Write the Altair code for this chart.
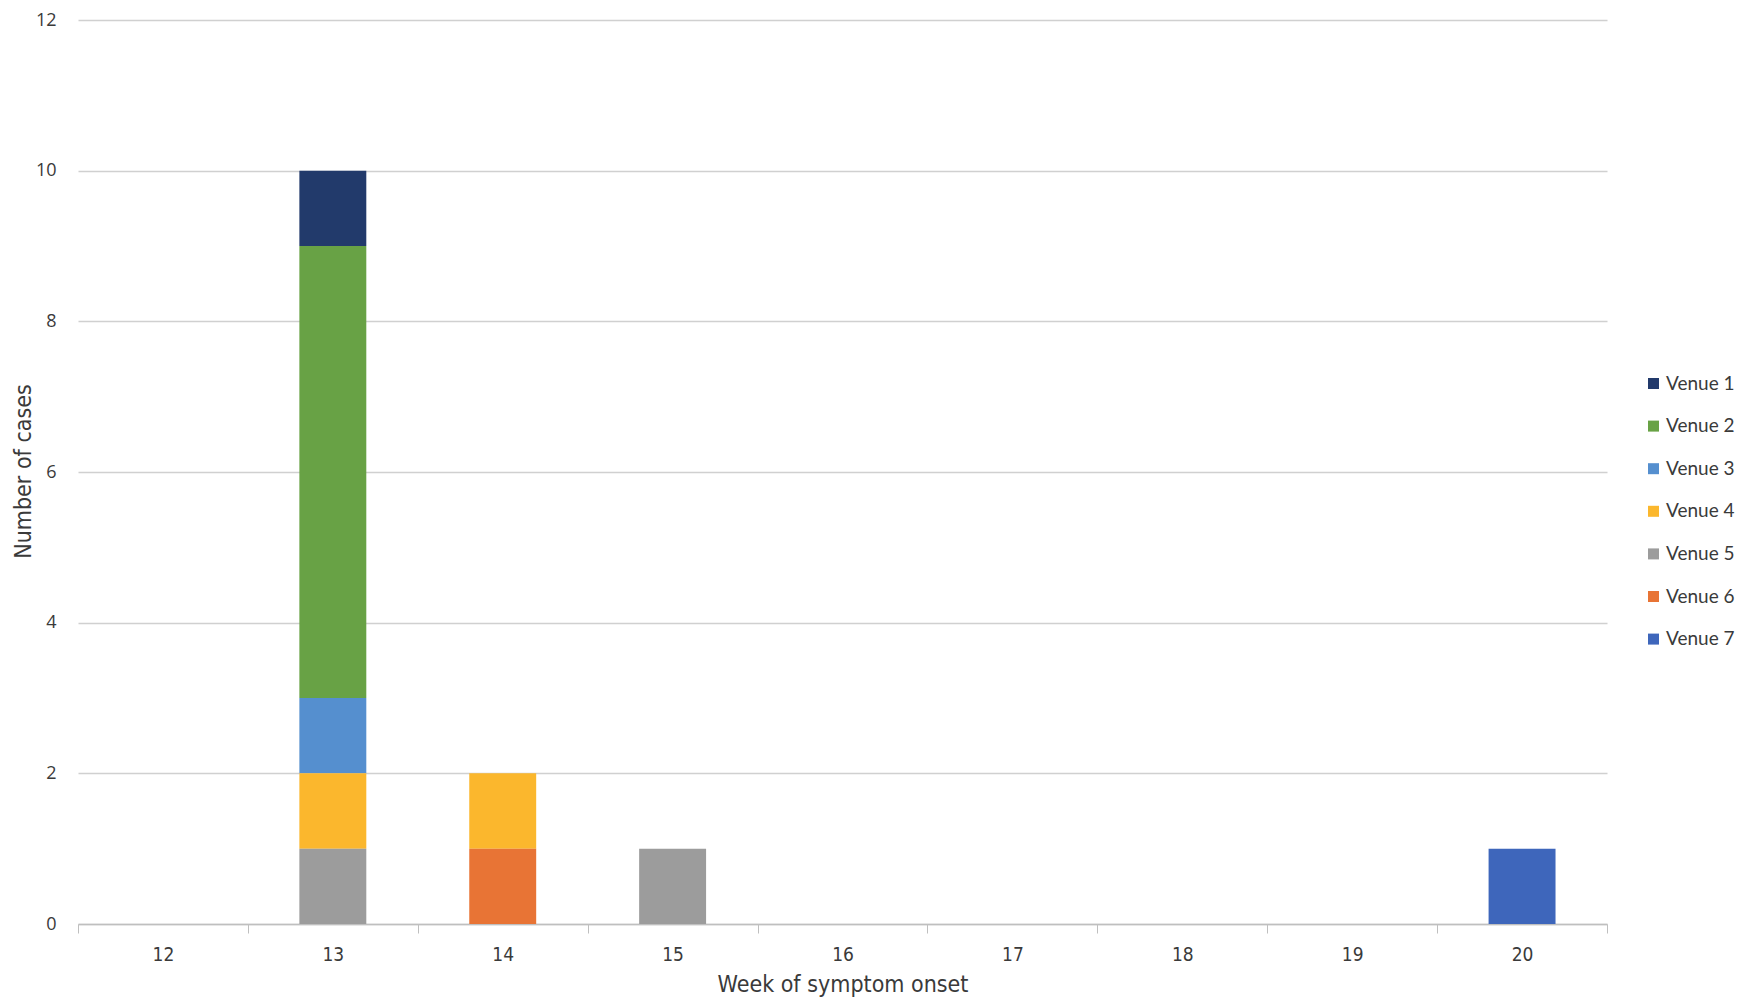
import altair as alt
import pandas as pd

weeks = [12, 13, 14, 15, 16, 17, 18, 19, 20]
venues = ["Venue 1", "Venue 2", "Venue 3", "Venue 4", "Venue 5", "Venue 6", "Venue 7"]
venue_colors = ["#223a6b", "#68a245", "#558fcf", "#fbb72d", "#9c9c9c", "#e87435", "#3e66bb"]

venue1 = [0, 1, 0, 0, 0, 0, 0, 0, 0]
venue2 = [0, 6, 0, 0, 0, 0, 0, 0, 0]
venue3 = [0, 1, 0, 0, 0, 0, 0, 0, 0]
venue4 = [0, 1, 1, 0, 0, 0, 0, 0, 0]
venue5 = [0, 1, 0, 1, 0, 0, 0, 0, 0]
venue6 = [0, 0, 1, 0, 0, 0, 0, 0, 0]
venue7 = [0, 0, 0, 0, 0, 0, 0, 0, 1]

series = [venue1, venue2, venue3, venue4, venue5, venue6, venue7]
rows = []
for vi, (name, vals) in enumerate(zip(venues, series)):
    for w, c in zip(weeks, vals):
        if c > 0:
            rows.append({"week": str(w), "venue": name, "cases": c, "rank": vi})
df = pd.DataFrame(rows)

NARROW = "DejaVu Sans Condensed, Lato, sans-serif"
WIDE = "Open Sans"
LEG = "Lato"
TXT = "#3a3a3a"

chart = alt.Chart(df).mark_bar(width=alt.RelativeBandSize(0.394)).encode(
    x=alt.X(
        "week:N",
        scale=alt.Scale(domain=[str(w) for w in weeks], paddingInner=0, paddingOuter=0),
        sort=[str(w) for w in weeks],
        axis=alt.Axis(
            title="Week of symptom onset",
            labelAngle=0,
            tickBand="extent",
            ticks=True,
            tickSize=9,
            tickColor="#bfbfbf",
            domainColor="#bfbfbf",
            domainWidth=1.5,
            grid=False,
            labelFont=NARROW,
            labelFontSize=19,
            labelColor=TXT,
            labelPadding=12,
            titleFont=NARROW,
            titleFontSize=23,
            titleFontWeight="normal",
            titleColor=TXT,
            titleBaseline="middle",
            titleY=60,
        ),
    ),
    y=alt.Y(
        "cases:Q",
        stack="zero",
        scale=alt.Scale(domain=[0, 12], nice=False),
        axis=alt.Axis(
            title="Number of cases",
            values=[0, 2, 4, 6, 8, 10, 12],
            ticks=False,
            domain=False,
            grid=True,
            gridColor="#d0d0d0",
            gridWidth=1.5,
            labelFont=WIDE,
            labelFontSize=18,
            labelColor=TXT,
            labelPadding=22,
            titleFont=NARROW,
            titleFontSize=23,
            titleFontWeight="normal",
            titleColor=TXT,
            titleBaseline="middle",
            titleAngle=270,
            titleX=-55,
            titleY=451,
        ),
    ),
    color=alt.Color(
        "venue:N",
        scale=alt.Scale(domain=venues, range=venue_colors),
        legend=alt.Legend(
            title=None,
            orient="none",
            legendX=1566,
            legendY=354,
            symbolType="square",
            symbolSize=121,
            symbolStrokeWidth=0,
            labelFont=LEG,
            labelFontSize=19,
            labelColor=TXT,
            labelOffset=3,
            rowPadding=22.6,
            padding=0,
        ),
    ),
    order=alt.Order("rank:Q", sort="descending"),
).properties(
    width=1529,
    height=904,
    autosize=alt.AutoSizeParams(type="none"),
    padding={"left": 70, "top": 12, "right": 128, "bottom": 74},
).configure_view(stroke=None)

chart.save("out.html", embed_options={"renderer": "svg", "actions": False})
